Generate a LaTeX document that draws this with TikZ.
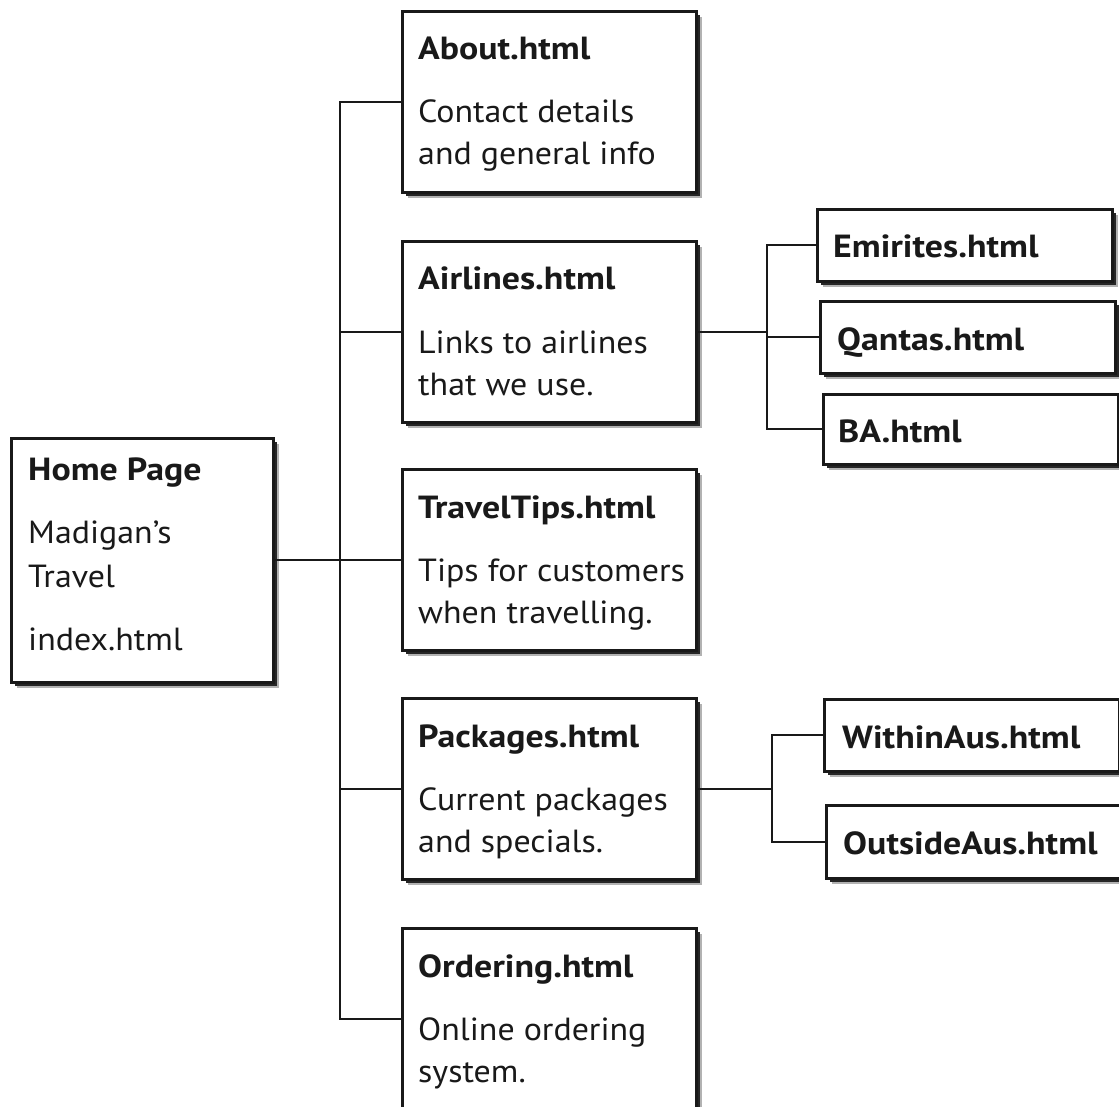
\documentclass[tikz,border=0pt]{standalone}
\usepackage{fontspec}
\setmainfont{PT Sans}[FakeStretch=1.06, BoldFeatures={FakeStretch=1.12}]
\usetikzlibrary{shadows}
\begin{document}
\begin{tikzpicture}[x=1pt,y=-1pt,
  pagebox/.style={draw=black!90, line width=2.6pt, fill=white, inner sep=0pt, anchor=north west,
    drop shadow={shadow xshift=5.5pt, shadow yshift=-5.5pt, fill=black!30, draw=none, opacity=1},
    drop shadow={shadow xshift=4pt, shadow yshift=-4pt, fill=black!85, draw=none, opacity=1}},
  bigbox/.style={pagebox, minimum width=294pt, minimum height=181pt},
  subbox/.style={pagebox, minimum width=295pt, minimum height=72pt},
  ttl/.style={anchor=base west, inner sep=0pt, text=black!90, font=\fontsize{32}{40}\selectfont\bfseries},
  txt/.style={anchor=base west, inner sep=0pt, text=black!90, font=\fontsize{32}{40}\selectfont},
  conn/.style={draw=black!90, line width=2.2pt}]
\useasboundingbox (0,0) rectangle (1119,1107);

% ---- boxes
\node[pagebox, minimum width=262pt, minimum height=244pt] (home) at (10,437) {};
\node[bigbox] (about) at (401,10) {};
\node[bigbox] (air) at (401,240) {};
\node[bigbox] (tips) at (401,468) {};
\node[bigbox] (pack) at (401,697) {};
\node[bigbox, minimum height=182pt] (order) at (401,927) {};
\node[subbox] (emi) at (816,208) {};
\node[subbox] (qan) at (819,300) {};
\node[subbox, minimum height=70pt] (ba) at (822,393) {};
\node[subbox] (within) at (823,698) {};
\node[subbox, minimum height=73pt] (outside) at (825,804) {};

% ---- texts
\node[ttl] (homeT) at (28,480) {Home Page};
\node[txt] (homeL1) at (28,543) {Madigan’s};
\node[txt] (homeL2) at (28,587) {Travel};
\node[txt] (homeL3) at (28,650) {index.html};

\node[ttl] (aboutT) at (418,60) {About.html};
\node[txt] (aboutL1) at (418,123) {Contact details};
\node[txt] (aboutL2) at (418,165) {and general info};

\node[ttl] (airT) at (418,290) {Airlines.html};
\node[txt] (airL1) at (418,353) {Links to airlines};
\node[txt] (airL2) at (418,395) {that we use.};

\node[ttl] (tipsT) at (418,518) {TravelTips.html};
\node[txt] (tipsL1) at (418,581) {Tips for customers};
\node[txt] (tipsL2) at (418,623) {when travelling.};

\node[ttl] (packT) at (418,747) {Packages.html};
\node[txt] (packL1) at (418,810) {Current packages};
\node[txt] (packL2) at (418,852) {and specials.};

\node[ttl] (orderT) at (418,977) {Ordering.html};
\node[txt] (orderL1) at (418,1040) {Online ordering};
\node[txt] (orderL2) at (418,1082) {system.};

\node[ttl] (emiT) at (833,258) {Emirites.html};
\node[ttl] (qanT) at (837,350) {Qantas.html};
\node[ttl] (baT) at (838,442) {BA.html};
\node[ttl] (withinT) at (842,748) {WithinAus.html};
\node[ttl] (outsideT) at (843,854) {OutsideAus.html};

% ---- connectors
\coordinate (trunk) at (340,0);
\coordinate (brA) at (767,0);
\coordinate (brP) at (772,0);

\draw[conn] (home.east) -- (trunk |- home.east);
\draw[conn] (about.west) -| (trunk |- order.west) -- (order.west);
\draw[conn] (trunk |- air.west) -- (air.west);
\draw[conn] (trunk |- tips.west) -- (tips.west);
\draw[conn] (trunk |- pack.west) -- (pack.west);

\draw[conn] (air.east) -- (brA |- air.east);
\draw[conn] (emi.west) -| (brA |- ba.west) -- (ba.west);
\draw[conn] (brA |- qan.west) -- (qan.west);

\draw[conn] (pack.east) -- (brP |- pack.east);
\draw[conn] (within.west) -| (brP |- outside.west) -- (outside.west);
\end{tikzpicture}
\end{document}
